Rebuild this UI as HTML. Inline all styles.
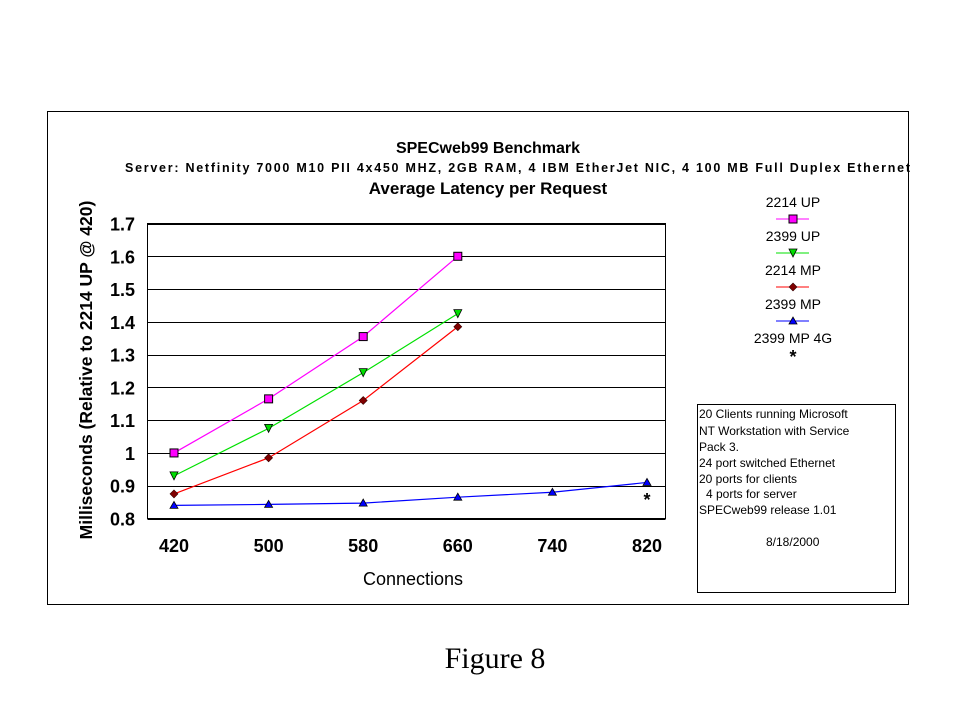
<!DOCTYPE html>
<html><head><meta charset="utf-8">
<style>
html,body{margin:0;padding:0;background:#fff;}
body{width:959px;height:719px;overflow:hidden;position:relative;font-family:"Liberation Sans",Arial,sans-serif;}
svg text{font-family:"Liberation Sans",Arial,sans-serif;}
</style></head>
<body>
<svg id="chart" width="959" height="719" xmlns="http://www.w3.org/2000/svg">
<rect x="47.5" y="111.5" width="861" height="493" fill="#fff" stroke="#000" stroke-width="1"/>
<text x="488" y="153" font-size="16" font-weight="bold" text-anchor="middle">SPECweb99 Benchmark</text>
<text x="125" y="172" font-size="12.5" font-weight="bold" textLength="785" lengthAdjust="spacing">Server: Netfinity 7000 M10 PII 4x450 MHZ, 2GB RAM, 4 IBM EtherJet NIC, 4 100 MB Full Duplex Ethernet</text>
<text x="488" y="194" font-size="17" font-weight="bold" text-anchor="middle">Average Latency per Request</text>
<text transform="translate(92,370) rotate(-90)" font-size="17.5" font-weight="bold" text-anchor="middle">Milliseconds (Relative to 2214 UP @ 420)</text>
<text x="413" y="585" font-size="18" text-anchor="middle">Connections</text>
<g id="grid"></g><g id="series"></g><g id="ticks"></g>
<rect x="147.5" y="223.5" width="518" height="295" fill="none" stroke="#000" stroke-width="1"/>
<g id="legend"></g>
<rect x="697.5" y="404.5" width="198" height="188" fill="#fff" stroke="#000"/>
<g font-size="12">
<text x="699" y="418">20 Clients running Microsoft</text>
<text x="699" y="435">NT Workstation with Service</text>
<text x="699" y="451">Pack 3.</text>
<text x="699" y="467">24 port switched Ethernet</text>
<text x="699" y="483">20 ports for clients</text>
<text x="706" y="498">4 ports for server</text>
<text x="699" y="514">SPECweb99 release 1.01</text>
<text x="766" y="546">8/18/2000</text>
</g>
<text x="495" y="668" font-size="30" text-anchor="middle" style="font-family:'Liberation Serif',serif">Figure 8</text>
</svg>
<script>
const categories=["420","500","580","660","740","820"];
const yTicks=[0.8,0.9,1,1.1,1.2,1.3,1.4,1.5,1.6,1.7];
const yTickLabels=["0.8","0.9","1","1.1","1.2","1.3","1.4","1.5","1.6","1.7"];
const s2214UP=[1.0,1.165,1.355,1.6];
const s2399UP=[0.93,1.075,1.245,1.425];
const s2214MP=[0.875,0.985,1.16,1.385];
const s2399MP=[0.84,0.843,0.847,0.865,0.88,0.91];
const s2399MP4G=[null,null,null,null,null,0.862];
const seriesNames=["2214 UP","2399 UP","2214 MP","2399 MP","2399 MP 4G"];

const NS="http://www.w3.org/2000/svg";
const L=147.5,R=665.5,T=223.5,B=518.5,yMin=0.8,yMax=1.7;
function x(i){return 174+i*94.6;}
function y(v){return B-(v-yMin)/(yMax-yMin)*(B-T);}
function mk(tag,attrs,parent){const e=document.createElementNS(NS,tag);for(const k in attrs)e.setAttribute(k,attrs[k]);parent.appendChild(e);return e;}
const grid=document.getElementById('grid'),ticks=document.getElementById('ticks'),ser=document.getElementById('series'),leg=document.getElementById('legend');
yTicks.forEach((v,i)=>{
  const g=mk('line',{x1:L,x2:R,y1:Math.round(y(v))+0.5,y2:Math.round(y(v))+0.5,stroke:'#000','stroke-width':1},grid);
  
  
  const t=mk('text',{x:135,y:y(v)+7,'font-size':18,'font-weight':'bold','text-anchor':'end'},ticks);
  t.textContent=yTickLabels[i];
  
  
});
categories.forEach((c,i)=>{
  const t=mk('text',{x:x(i),y:552,'font-size':18,'font-weight':'bold','text-anchor':'middle'},ticks);
  t.textContent=c;
  
  
});
function marker(type,cx,cy,color,parent){
  let e;
  if(type==='square')e=mk('rect',{x:cx-4,y:cy-4,width:8,height:8,fill:color,stroke:'#000','stroke-width':1},parent);
  else if(type==='down')e=mk('polygon',{points:`${cx-4},${cy-4} ${cx+4},${cy-4} ${cx},${cy+4}`,fill:color,stroke:'#000','stroke-width':0.8},parent);
  else if(type==='up')e=mk('polygon',{points:`${cx-4},${cy+3} ${cx+4},${cy+3} ${cx},${cy-4}`,fill:color,stroke:'#000','stroke-width':0.8},parent);
  else if(type==='diamond')e=mk('polygon',{points:`${cx},${cy-4} ${cx+4},${cy} ${cx},${cy+4} ${cx-4},${cy}`,fill:color,stroke:'#300','stroke-width':0.6},parent);
  else {e=mk('text',{x:cx,y:cy+8,'font-size':18,'font-weight':'bold','text-anchor':'middle',fill:'#000'},parent);e.textContent='*';}
  return e;
}
const defs=[[s2214UP,'#ff00ff','square','#ff00ff'],[s2399UP,'#00e000','down','#00dd00'],[s2214MP,'#ff0000','diamond','#800000'],[s2399MP,'#0000ff','up','#0000ff'],[s2399MP4G,null,'star','#000']];
defs.forEach((d,si)=>{
  const [vals,lc,mt,mc]=d;
  const g=mk('g',{},ser);
  
  
  if(lc){
    const pts=vals.map((v,i)=>v==null?null:`${x(i)},${y(v)}`).filter(p=>p).join(' ');
    mk('polyline',{points:pts,fill:'none',stroke:lc,'stroke-width':1.2},g);
  }
  vals.forEach((v,i)=>{ if(v==null)return;
    const m=marker(mt,x(i),y(v),mc,g);
    
    
  });
  const ly=203+si*34;
  const lt=mk('text',{x:793,y:ly+4,'font-size':14,'text-anchor':'middle'},leg);
  lt.textContent=seriesNames[si];
  
  
  if(lc)mk('line',{x1:776,x2:809,y1:ly+16,y2:ly+16,stroke:lc,'stroke-width':1},leg);
  const lm=marker(mt,793,ly+16,mc,leg);
  
  
});
</script>
</body></html>
